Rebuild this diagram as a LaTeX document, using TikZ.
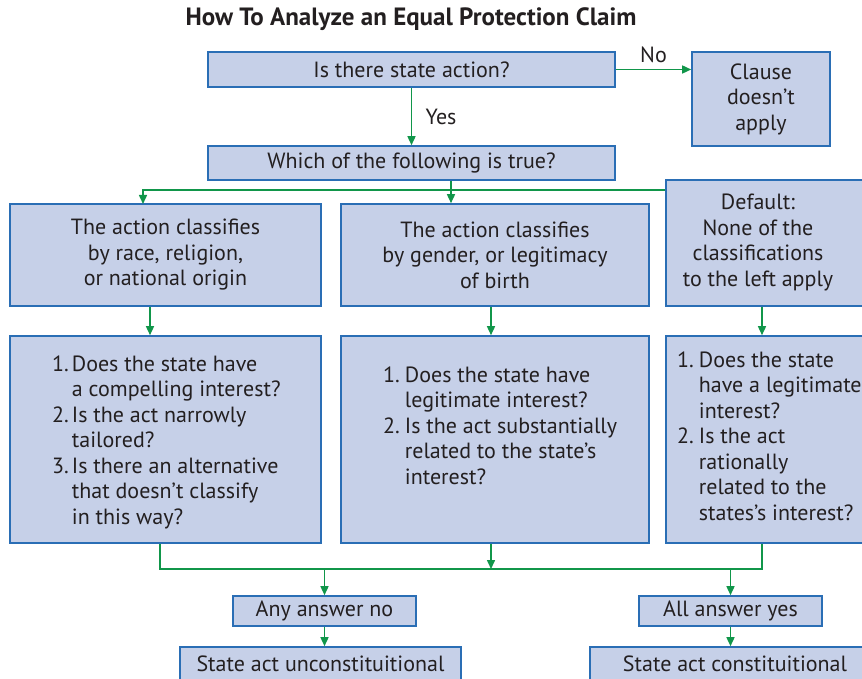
\documentclass[tikz,border=0pt]{standalone}
\usepackage{fontspec}
\setmainfont{PT Sans}
\usetikzlibrary{arrows.meta,positioning}

\definecolor{boxfill}{HTML}{C6D0E8}
\definecolor{boxline}{HTML}{2A6EB5}
\definecolor{arrowgreen}{HTML}{11964A}
\definecolor{inkgray}{HTML}{231F20}

\tikzset{
  qbox/.style={draw=boxline, fill=boxfill, line width=1.6pt, inner sep=0pt,
    text=inkgray, align=center, font=\fontsize{22}{25.5}\selectfont},
  qtext/.style={inner sep=0pt, text=inkgray, anchor=north west,
    font=\fontsize{22}{25.5}\selectfont},
  flow/.style={draw=arrowgreen, line width=1.5pt, -{Triangle[length=9pt,width=8pt]}},
  link/.style={draw=arrowgreen, line width=1.5pt},
}

\begin{document}
\begin{tikzpicture}[x=1pt, y=-1pt]
\useasboundingbox (0,0) rectangle (862,679);
\clip (0,0) rectangle (862,679);

% Title
\node[font=\fontsize{25}{28}\selectfont\bfseries, text=inkgray] (title) at (411,19) {How To Analyze an Equal Protection Claim};

% Top questions
\node[qbox, minimum width=407, minimum height=35] (act) at (411.5,69.5) {Is there state action?};
\node[qbox, minimum width=138, minimum height=94] (clause) at (761,99) {Clause\\doesn't\\apply};
\node[qbox, minimum width=407, minimum height=34] (which) at (411.5,163) {Which of the following is true?};

% Classifications
\node[qbox, minimum width=311, minimum height=102] (race) at (165.5,255) {The action classifies\\by race, religion,\\or national origin};
\node[qbox, minimum width=308, minimum height=102] (gender) at (495,255) {The action classifies\\by gender, or legitimacy\\of birth};
\node[qbox, minimum width=214, minimum height=126] (default) at (773,243) {};
\node[qtext, anchor=center, align=center] (defaulttext) at (758,242.5) {Default:\\None of the\\classifications\\to the left apply};

% Tests
\node[qbox, minimum width=311, minimum height=207] (strict) at (165.5,439.5) {};
\node[qbox, minimum width=308, minimum height=207] (inter) at (495,439.5) {};
\node[qbox, minimum width=214, minimum height=207] (rational) at (773,439.5) {};

\node[qtext] (stricttext) at (52,353) {\begin{tabular}{@{}l@{\hspace{3pt}}l@{}}
1. & Does the state have\\
   & a compelling interest?\\
2. & Is the act narrowly\\
   & tailored?\\
3. & Is there an alternative\\
   & that doesn't classify\\
   & in this way?
\end{tabular}};
\node[qtext] (intertext) at (383,364) {\begin{tabular}{@{}l@{\hspace{5pt}}l@{}}
1. & Does the state have\\
   & legitimate interest?\\
2. & Is the act substantially\\
   & related to the state's\\
   & interest?
\end{tabular}};
\node[qtext] (rationaltext) at (677,349) {\begin{tabular}{@{}l@{\hspace{5pt}}l@{}}
1. & Does the state\\
   & have a legitimate\\
   & interest?\\
2. & Is the act\\
   & rationally\\
   & related to the\\
   & states's interest?
\end{tabular}};

% Outcomes
\node[qbox, minimum width=183, minimum height=30] (anyno) at (324.5,611) {Any answer no};
\node[qbox, minimum width=183, minimum height=30] (allyes) at (730.5,611) {All answer yes};
\node[qbox, minimum width=281, minimum height=34] (uncon) at (320.5,664) {State act unconstituitional};
\node[qbox, minimum width=290, minimum height=34] (con) at (735,664) {State act constituitional};

% Junction points
\coordinate (split) at (451,190);
\coordinate (raceIn) at (143,204);
\coordinate (dropA) at (150,0);
\coordinate (dropB) at (491,0);
\coordinate (dropC) at (762,0);
\coordinate (joinL) at (160,0);
\coordinate (merge) at (491,569);

% Connectors
\draw[flow] (act.east) -- (act.east -| clause.west) node[midway, above=3pt, text=inkgray, font=\fontsize{22}{25}\selectfont] (nolabel) {No};
\draw[flow] (act) -- (which) node[midway, right=10pt, text=inkgray, font=\fontsize{22}{25}\selectfont] (yeslabel) {Yes};
\draw[flow] (which.south -| split) -- (gender.north -| split);
\draw[flow] (default.west |- split) -| (raceIn);
\draw[flow] (race.south -| dropA) -- (strict.north -| dropA);
\draw[flow] (gender.south -| dropB) -- (inter.north -| dropB);
\draw[flow] (default.south -| dropC) -- (rational.north -| dropC);
\draw[link] (strict.south -| joinL) |- (merge) -| (rational.south -| dropC);
\draw[flow] (inter.south -| merge) -- (merge);
\draw[flow] (anyno.north |- merge) -- (anyno);
\draw[flow] (allyes.north |- merge) -- (allyes);
\draw[flow] (anyno.south) -- (uncon.north -| anyno.south);
\draw[flow] (allyes.south) -- (con.north -| allyes.south);
\end{tikzpicture}
\end{document}
